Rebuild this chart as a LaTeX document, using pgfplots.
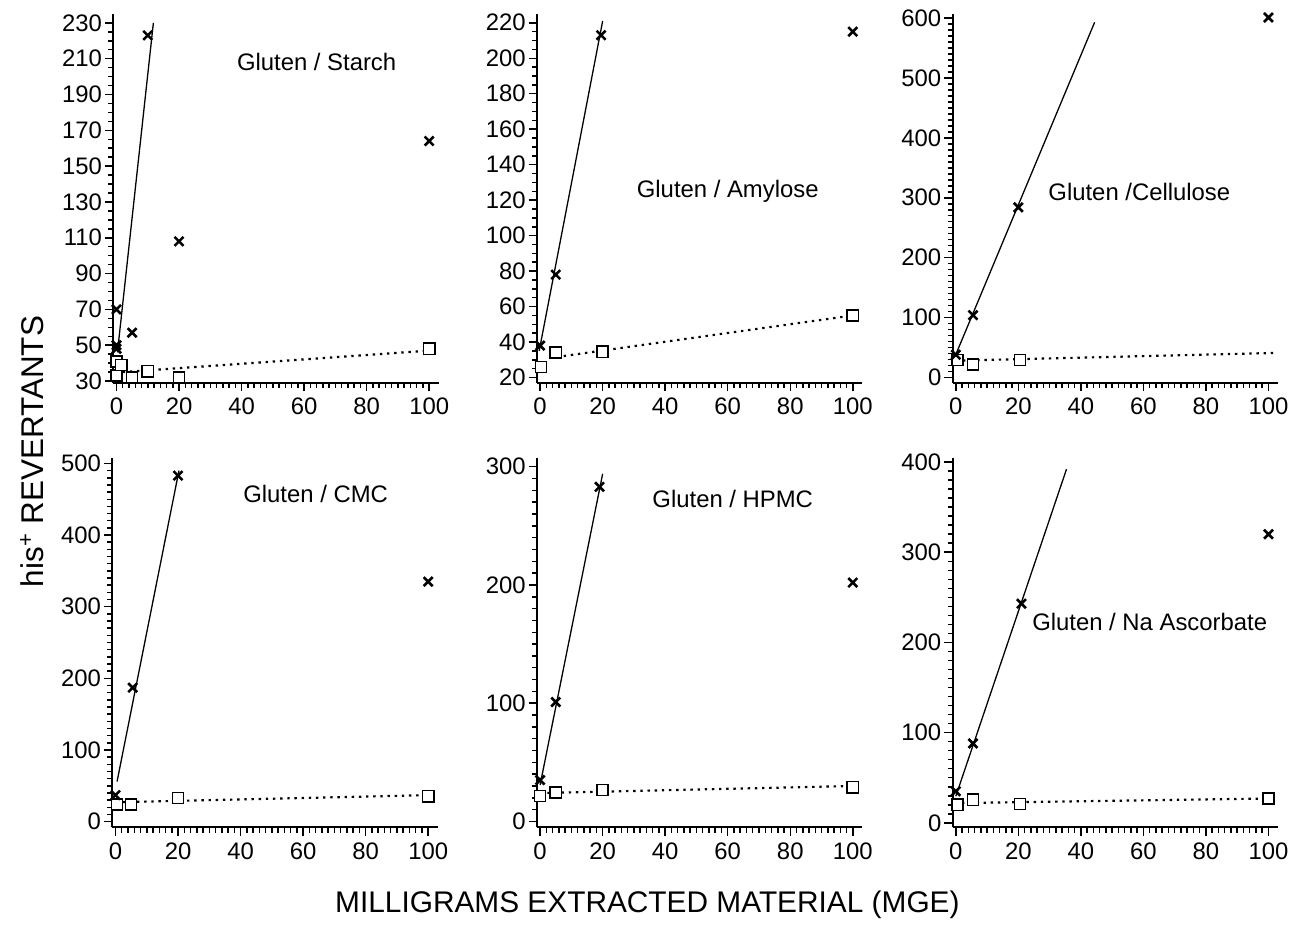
\documentclass[border=0pt]{standalone}
\usepackage{fontspec}
\setmainfont{Liberation Sans}
\usepackage{pgfplots}
\pgfplotsset{compat=1.18}

\pgfplotsset{
  panel/.style={
    scale only axis, width=163.5pt, height=185.5pt, anchor=south west,
    axis lines*=left, axis line style={-, line width=1pt},
    xmin=-1, xmax=103, xtick={0,20,...,100}, minor x tick num=9,
    tick align=outside, major tick length=4.2pt, minor tick length=2.6pt,
    every tick/.style={line width=0.75pt, black},
    /pgf/number format/assume math mode=true,
    tick label style={font=\fontsize{12}{14}\selectfont},
    yticklabel style={xshift=2pt},
    clip=false,
  },
  xs/.style={only marks, mark=x, mark size=3.2pt, mark options={line width=1.3pt}, black},
  sq/.style={only marks, mark=square*, mark size=2.8pt, mark options={line width=0.8pt, fill=white}, black},
  fit/.style={black, line width=0.65pt, no marks},
  dfit/.style={black, line width=1.1pt, dash pattern=on 1.2pt off 2.4pt, no marks},
}
\tikzset{ttl/.style={font=\fontsize{12}{14}\selectfont}}

\begin{document}
\begin{tikzpicture}
\path (0,0) rectangle (647.5pt,463.5pt);

% top row
\begin{axis}[panel, at={(57pt,271pt)}, ymin=29, ymax=235, ytick={30,50,...,230}, minor y tick num=3]
\addplot[dfit] coordinates {(2,35) (100,47)};
\addplot[sq] coordinates {(0,33) (0,41) (1.5,39) (5,32) (10,35.5) (20,32) (100,48)};
\addplot[fit] coordinates {(0.3,46) (11.8,230)};
\addplot[xs] coordinates {(0,50) (0,48) (0,70) (5,57) (10,223) (20,108) (100,164)};
\node[ttl] at (axis cs:64,208) {Gluten / Starch};
\end{axis}

\begin{axis}[panel, at={(270pt,271pt)}, ymin=17, ymax=225, ytick={20,40,...,220}, minor y tick num=3]
\addplot[dfit] coordinates {(3,31) (100,55)};
\addplot[sq] coordinates {(0.3,26) (5,34) (20,34.5) (100,55)};
\addplot[fit] coordinates {(-0.3,35) (20,221)};
\addplot[xs] coordinates {(0,38) (5,78) (19.5,213) (100,215)};
\node[ttl] at (axis cs:60,125) {Gluten / Amylose};
\end{axis}

\begin{axis}[panel, at={(479pt,271pt)}, ymin=-9, ymax=607, ytick={0,100,...,600}, minor y tick num=9]
\addplot[dfit] coordinates {(0,28) (102.5,41)};
\addplot[sq] coordinates {(0.5,29) (5.5,22) (20.5,29)};
\addplot[fit] coordinates {(-0.5,32) (44.4,593)};
\addplot[xs] coordinates {(0,38) (5.5,104) (20,284) (100,601)};
\node[ttl] at (axis cs:58.7,310) {Gluten /Cellulose};
\end{axis}

% bottom row
\begin{axis}[panel, at={(56.5pt,47.5pt)}, ymin=-8, ymax=507, ytick={0,100,...,500}, minor y tick num=9]
\addplot[dfit] coordinates {(0,27) (100,37)};
\addplot[sq] coordinates {(0.5,24) (5,24) (20,33) (100,35.5)};
\addplot[fit] coordinates {(0.5,56) (20.3,490)};
\addplot[xs] coordinates {(0,37) (5.5,187) (20,483) (100,335)};
\node[ttl] at (axis cs:64,458) {Gluten / CMC};
\end{axis}

\begin{axis}[panel, at={(270pt,47.5pt)}, ymin=-5, ymax=307, ytick={0,100,...,300}, minor y tick num=9]
\addplot[dfit] coordinates {(0,24) (100,30)};
\addplot[sq] coordinates {(0,21.5) (5,24.5) (20,26.5) (100,29)};
\addplot[fit] coordinates {(0,31) (20,294)};
\addplot[xs] coordinates {(0,35) (5,101) (19,283) (100,202)};
\node[ttl] at (axis cs:61.6,273) {Gluten / HPMC};
\end{axis}

\begin{axis}[panel, at={(479pt,47.5pt)}, ymin=-5, ymax=404, ytick={0,100,...,400}, minor y tick num=9]
\addplot[dfit] coordinates {(2,22) (100,27)};
\addplot[sq] coordinates {(0.5,20) (5.5,25.5) (20.5,21) (100,27)};
\addplot[fit] coordinates {(0,29.5) (35.4,392)};
\addplot[xs] coordinates {(0,35) (5.5,88) (21,243) (100,320)};
\node[ttl] at (axis cs:62,223) {Gluten / Na Ascorbate};
\end{axis}

\node[font=\fontsize{15.8}{18}\selectfont, rotate=90] at (16pt,236.5pt) {his\textsuperscript{+} REVERTANTS};
\node[font=\fontsize{15}{17}\selectfont] at (325.5pt,8.5pt) {MILLIGRAMS EXTRACTED MATERIAL (MGE)};
\end{tikzpicture}
\end{document}
